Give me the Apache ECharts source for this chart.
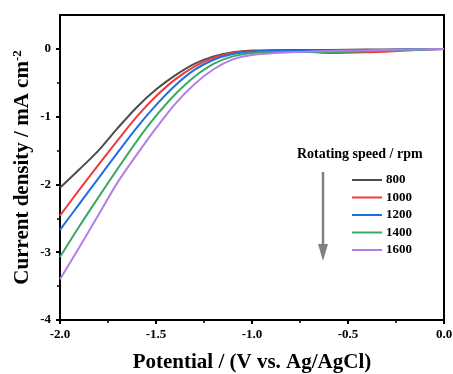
<!DOCTYPE html>
<html><head><meta charset="utf-8">
<script src="https://cdn.jsdelivr.net/npm/echarts@6/dist/echarts.min.js"></script>
<style>html,body{margin:0;padding:0;background:#fff}#c{width:453px;height:374px}</style>
</head><body><div id="c"></div>
<script>
const potential = [-2.0,-1.9,-1.8,-1.7,-1.6,-1.5,-1.4,-1.3,-1.2,-1.1,-1.0,-0.8,-0.6,-0.4,-0.2,0.0];
const seriesNames = ['800','1000','1200','1400','1600'];
const j800  = [-2.05,-1.78,-1.50,-1.17,-0.86,-0.60,-0.39,-0.22,-0.11,-0.05,-0.025,-0.015,-0.015,-0.01,-0.005,0];
const j1000 = [-2.46,-2.08,-1.71,-1.35,-1.00,-0.70,-0.45,-0.26,-0.13,-0.06,-0.035,-0.035,-0.06,-0.05,-0.025,0];
const j1200 = [-2.67,-2.29,-1.91,-1.53,-1.16,-0.83,-0.54,-0.31,-0.16,-0.075,-0.04,-0.025,-0.025,-0.02,-0.01,0];
const j1400 = [-3.07,-2.62,-2.19,-1.77,-1.36,-0.99,-0.67,-0.41,-0.22,-0.11,-0.06,-0.045,-0.045,-0.035,-0.02,0];
const j1600 = [-3.40,-2.93,-2.45,-1.97,-1.56,-1.17,-0.81,-0.52,-0.30,-0.155,-0.09,-0.05,-0.03,-0.02,-0.01,0];
const xTicks = [-2.0,-1.5,-1.0,-0.5,0.0];
const yTicks = [-4,-3,-2,-1,0];
const colors = ['#4d4d4d','#f23a3a','#1f6fe3','#3aa864','#b47ee8'];
const allJ = [j800,j1000,j1200,j1400,j1600];

const font = 'Liberation Serif';
const frameLine = {show:true,onZero:false,lineStyle:{color:'#000',width:2}};
const chart = echarts.init(document.getElementById('c'));
chart.setOption({
  animation:false,
  backgroundColor:'#fff',
  grid:{left:60,right:9,top:15,bottom:54,show:false,outerBoundsMode:'none',containLabel:false},
  xAxis:[{type:'value',min:-2,max:0,interval:0.5,
    axisLine:frameLine,
    axisTick:{show:true,inside:false,length:4,lineStyle:{color:'#000',width:2}},
    minorTick:{show:true,splitNumber:2,length:3,lineStyle:{color:'#000',width:1.5}},
    axisLabel:{color:'#000',fontFamily:font,fontWeight:'bold',fontSize:13,margin:8,
      formatter:v=>v.toFixed(1)},
    splitLine:{show:false},
    name:'Potential / (V vs. Ag/AgCl)',nameLocation:'middle',nameGap:32,
    nameTextStyle:{color:'#000',fontFamily:font,fontWeight:'bold',fontSize:21}
  },{type:'value',position:'top',min:-2,max:0,axisLine:frameLine,axisTick:{show:false},axisLabel:{show:false},splitLine:{show:false}}],
  yAxis:[{type:'value',min:-4,max:0.5,interval:1,
    axisLine:frameLine,
    axisTick:{show:true,inside:false,length:4,customValues:yTicks,lineStyle:{color:'#000',width:2}},
    minorTick:{show:true,splitNumber:2,length:3,lineStyle:{color:'#000',width:1.5}},
    axisLabel:{color:'#000',fontFamily:font,fontWeight:'bold',fontSize:13,margin:9,customValues:yTicks},
    splitLine:{show:false},
    name:'Current density / mA cm{sup|-2}',nameLocation:'middle',nameGap:25,nameMoveOverlap:false,
    nameTextStyle:{color:'#000',fontFamily:font,fontWeight:'bold',fontSize:21,
      rich:{sup:{fontFamily:font,fontWeight:'bold',fontSize:13,verticalAlign:'top',padding:[0,0,11,0]}}}
  },{type:'value',position:'right',min:-4,max:0.5,axisLine:frameLine,axisTick:{show:false},axisLabel:{show:false},splitLine:{show:false}}],
  legend:{orient:'vertical',left:347,top:168.5,itemWidth:30,itemHeight:10,itemGap:4.5,padding:5,
    textStyle:{color:'#000',fontFamily:font,fontWeight:'bold',fontSize:13,lineHeight:13,padding:[0,0,0,-1]},
    data:seriesNames.map(n=>({name:n,icon:'path://M0,4 L30,4 L30,6 L0,6 Z'}))
  },
  graphic:[
    {type:'text',left:297,top:147,style:{text:'Rotating speed / rpm',font:'bold 14px "Liberation Serif"',fill:'#000'}},
    {type:'line',shape:{x1:323,y1:172,x2:323,y2:246},style:{stroke:'#808080',lineWidth:2.5}},
    {type:'polygon',shape:{points:[[318,244],[328,244],[323,261]]},style:{fill:'#808080'}}
  ],
  series:allJ.map((arr,i)=>({
    name:seriesNames[i],type:'line',smooth:0.3,symbol:'none',xAxisIndex:0,yAxisIndex:0,
    lineStyle:{color:colors[i],width:2},itemStyle:{color:colors[i]},
    data:potential.map((v,k)=>[v,arr[k]])
  }))
});
</script></body></html>
